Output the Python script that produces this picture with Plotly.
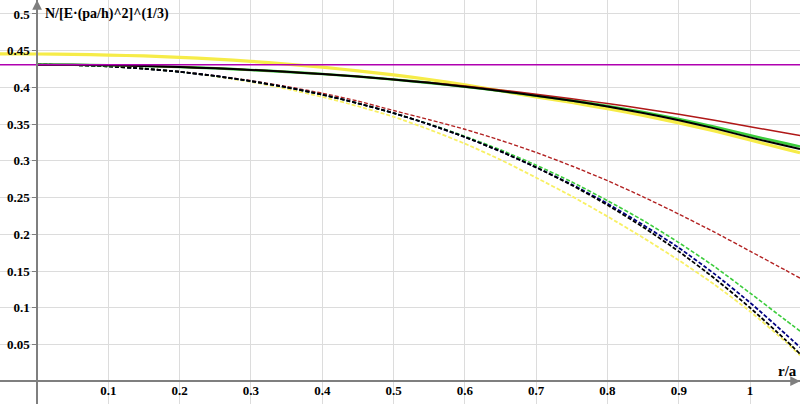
import plotly.graph_objects as go

# ---------------- data ----------------
x = [0, 0.05, 0.1, 0.15, 0.2, 0.25, 0.3, 0.35, 0.4, 0.45, 0.5, 0.55,
     0.6, 0.65, 0.7, 0.75, 0.8, 0.85, 0.9, 0.95, 1.0, 1.05, 1.07]

black_solid = [0.431, 0.4308, 0.4302, 0.4292, 0.4278, 0.4260, 0.4238, 0.4212, 0.4182, 0.4148,
               0.4108, 0.4062, 0.4010, 0.3952, 0.3888, 0.3818, 0.3740, 0.3652, 0.3552, 0.3442,
               0.3320, 0.3205, 0.3160]
red_solid = [0.431, 0.4308, 0.4302, 0.4292, 0.4278, 0.4260, 0.4238, 0.4212, 0.4182, 0.4148,
             0.4108, 0.4066, 0.4018, 0.3966, 0.3908, 0.3846, 0.3780, 0.3710, 0.3634, 0.3552,
             0.3465, 0.3380, 0.3345]
green_solid = [0.431, 0.4308, 0.4302, 0.4292, 0.4278, 0.4260, 0.4238, 0.4212, 0.4182, 0.4148,
               0.4108, 0.4062, 0.4010, 0.3952, 0.3888, 0.3822, 0.3748, 0.3664, 0.3570, 0.3464,
               0.3348, 0.3238, 0.3195]
x_yellow = [-0.052] + x
yellow_solid = [0.4457, 0.4455, 0.4450, 0.4440, 0.4428, 0.4410, 0.4385, 0.4355, 0.4318, 0.4275,
                0.4225, 0.4170, 0.4108, 0.4035, 0.3955, 0.3870, 0.3794, 0.3710, 0.3618, 0.3518,
                0.3406, 0.3284, 0.3160, 0.3110]

black_dash = [0.431, 0.4304, 0.4286, 0.4255, 0.4212, 0.4155, 0.4085, 0.4001, 0.3901, 0.3784,
              0.3650, 0.3497, 0.3324, 0.3130, 0.2911, 0.2668, 0.2398, 0.2098, 0.1767, 0.1401,
              0.1000, 0.0560, 0.0372]
navy_dash = [0.431, 0.4304, 0.4286, 0.4255, 0.4212, 0.4155, 0.4085, 0.4001, 0.3901, 0.3784,
             0.3650, 0.3497, 0.3324, 0.3130, 0.2911, 0.2678, 0.2418, 0.2128, 0.1817, 0.1461,
             0.1070, 0.0640, 0.0462]
green_dash = [0.431, 0.4304, 0.4286, 0.4255, 0.4212, 0.4155, 0.4085, 0.4001, 0.3901, 0.3784,
              0.3650, 0.3502, 0.3334, 0.3150, 0.2941, 0.2713, 0.2458, 0.2188, 0.1887, 0.1561,
              0.1200, 0.0830, 0.0682]
red_dash = [0.431, 0.4304, 0.4287, 0.4257, 0.4215, 0.4160, 0.4092, 0.4012, 0.3921, 0.3814,
            0.3685, 0.3560, 0.3430, 0.3280, 0.3115, 0.2930, 0.2730, 0.2510, 0.2275, 0.2030,
            0.1770, 0.1510, 0.1404]
yellow_dash = [0.431, 0.4304, 0.4286, 0.4255, 0.4212, 0.4150, 0.4075, 0.3981, 0.3871, 0.3744,
               0.3600, 0.3427, 0.3234, 0.3015, 0.2771, 0.2518, 0.2243, 0.1953, 0.1647, 0.1316,
               0.0950, 0.0535, 0.0352]

magenta_x = [-0.052, 1.07]
magenta_level = [0.431, 0.431]

x_tickvals = [0.1, 0.2, 0.3, 0.4, 0.5, 0.6, 0.7, 0.8, 0.9, 1.0]
x_ticktext = ["0.1", "0.2", "0.3", "0.4", "0.5", "0.6", "0.7", "0.8", "0.9", "1"]
y_tickvals = [0.05, 0.1, 0.15, 0.2, 0.25, 0.3, 0.35, 0.4, 0.45, 0.5]
y_ticktext = ["0.05", "0.1", "0.15", "0.2", "0.25", "0.3", "0.35", "0.4", "0.45", "0.5"]

y_title = "N/[E·(pa/h)^2]^(1/3)"
x_title = "r/a"

XR = [-0.052, 1.070]
YR = [-0.031, 0.519]

# ---------------- figure ----------------
YEL = "rgb(246,236,72)"
YEL_D = "rgb(248,240,100)"
DASH = "4px,2px"

fig = go.Figure()

def add(xs, ys, color, width, dash=None):
    fig.add_trace(go.Scatter(x=xs, y=ys, mode="lines",
                             line=dict(color=color, width=width, dash=dash, shape="spline", smoothing=0.6),
                             hoverinfo="skip", showlegend=False))

add(x_yellow, yellow_solid, YEL, 3.2)
add(x, yellow_dash, YEL_D, 1.8, DASH)
add(x, red_dash, "#b22222", 1.4, DASH)
add(x, green_dash, "#3ccc3c", 1.6, DASH)
add(x, navy_dash, "#000080", 1.8, DASH)
add(x, black_dash, "#000000", 1.8, DASH)
add(x, green_solid, "#3ccc3c", 2.6)
add(x, red_solid, "#b01818", 1.5)
add(x, black_solid, "#000000", 2.0)
add(magenta_x, magenta_level, "#b000b0", 1.5)

tickfont = dict(family="Liberation Serif", size=13, color="#000000", weight="bold")
xpos = (0 - YR[0]) / (YR[1] - YR[0])
ypos = (0 - XR[0]) / (XR[1] - XR[0])

fig.update_layout(
    width=800, height=404,
    margin=dict(l=0, r=0, t=0, b=0, autoexpand=False),
    paper_bgcolor="white", plot_bgcolor="white",
    font=dict(family="Liberation Serif"),
    xaxis=dict(range=XR, tickvals=x_tickvals, ticktext=x_ticktext, domain=[0, 1],
               showgrid=True, gridcolor="#dcdcdc", gridwidth=1, zeroline=False,
               anchor="free", position=xpos, showline=True, linecolor="#7f7f7f", linewidth=1.5,
               ticks="", automargin=False,
               tickfont=tickfont, ticklabelstandoff=-3),
    yaxis=dict(range=YR, tickvals=y_tickvals, ticktext=y_ticktext, domain=[0, 1],
               showgrid=True, gridcolor="#dcdcdc", gridwidth=1, zeroline=False,
               anchor="free", position=ypos, showline=True, linecolor="#7f7f7f", linewidth=1.5,
               ticks="outside", ticklen=4, tickcolor="#7f7f7f", automargin=False,
               tickfont=tickfont, ticklabelstandoff=0),
)

# axis titles
fig.add_annotation(text="<b>" + y_title + "</b>", xref="paper", yref="paper",
                   x=43 / 800, y=1 - 14 / 404, xanchor="left", yanchor="middle",
                   showarrow=False, font=dict(family="Liberation Serif", size=14, color="#000"))
fig.add_annotation(text="<b>" + x_title + "</b>", xref="paper", yref="paper",
                   x=799 / 800, y=1 - 371 / 404, xanchor="right", yanchor="middle",
                   showarrow=False, font=dict(family="Liberation Serif", size=15, color="#000"))

# axis arrows
fig.add_annotation(x=XR[1], y=0, ax=XR[1] - 0.02, ay=0, xref="x", yref="y", axref="x", ayref="y",
                   showarrow=True, arrowhead=2, arrowsize=1.3, arrowwidth=1.5, arrowcolor="#7f7f7f", text="")
fig.add_annotation(x=0, y=YR[1], ax=0, ay=YR[1] - 0.015, xref="x", yref="y", axref="x", ayref="y",
                   showarrow=True, arrowhead=2, arrowsize=1.3, arrowwidth=1.5, arrowcolor="#7f7f7f", text="")

fig.write_html("out.html", config={"displayModeBar": False},
               post_script="document.body.style.margin='0';document.body.style.overflow='hidden';")
